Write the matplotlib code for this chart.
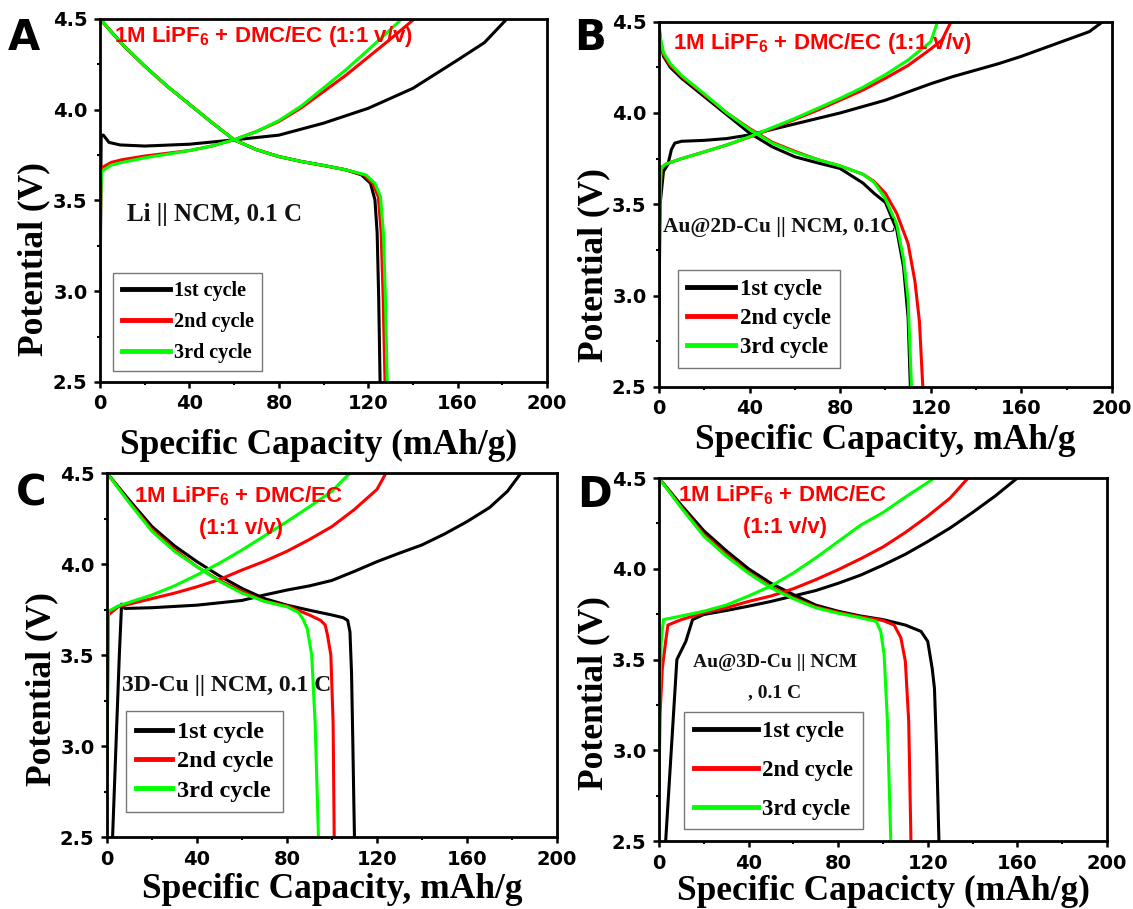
import matplotlib
matplotlib.use('Agg')
import matplotlib.pyplot as plt
from matplotlib.font_manager import FontProperties
from matplotlib.ticker import MultipleLocator

plt.rcParams['mathtext.fontset'] = 'custom'
plt.rcParams['mathtext.rm'] = 'Liberation Sans:bold'
plt.rcParams['mathtext.default'] = 'rm'

colors = ['#000000', '#ff0000', '#00ff00']
cycle_labels = ['1st cycle', '2nd cycle', '3rd cycle']
electrolyte = '1M LiPF$_6$ + DMC/EC (1:1 v/v)'

# ---- A: Li || NCM ----
a_chg1_q = [0, 0.3, 0.5, 1.5, 4, 9, 20, 40, 60, 80, 100, 120, 140, 160, 172, 182]
a_chg1_v = [2.75, 3.5, 3.86, 3.86, 3.82, 3.806, 3.80, 3.81, 3.834, 3.86, 3.926, 4.008, 4.118, 4.274, 4.37, 4.5]
a_chg2_q = [0, 0.3, 0.7, 5, 10, 20, 30, 40, 50, 60, 70, 80, 90, 100, 110, 120, 130, 140.6]
a_chg2_v = [3.1, 3.5, 3.68, 3.71, 3.725, 3.745, 3.76, 3.775, 3.80, 3.835, 3.88, 3.935, 4.01, 4.10, 4.19, 4.29, 4.39, 4.5]
a_chg3_q = [0, 0.3, 0.7, 5, 10, 20, 30, 40, 50, 60, 70, 80, 90, 100, 110, 120, 128, 135]
a_chg3_v = [3.1, 3.5, 3.66, 3.695, 3.71, 3.735, 3.755, 3.775, 3.80, 3.835, 3.88, 3.94, 4.02, 4.12, 4.22, 4.33, 4.42, 4.5]
a_dis1_q = [0, 10, 20, 30, 40, 50, 60, 70, 80, 90, 100, 110, 117, 121, 123, 124, 124.7, 125.3]
a_dis1_v = [4.5, 4.36, 4.24, 4.13, 4.03, 3.93, 3.834, 3.78, 3.742, 3.715, 3.693, 3.669, 3.641, 3.595, 3.504, 3.32, 2.953, 2.5]
a_dis2_q = [0, 10, 20, 30, 40, 50, 60, 70, 80, 90, 100, 110, 118, 122, 124.5, 125.8, 126.7, 127.5]
a_dis2_v = [4.5, 4.36, 4.24, 4.13, 4.03, 3.93, 3.834, 3.78, 3.742, 3.715, 3.693, 3.669, 3.641, 3.595, 3.52, 3.32, 2.953, 2.5]
a_dis3_q = [0, 10, 20, 30, 40, 50, 60, 70, 80, 90, 100, 110, 119, 123, 125.5, 126.8, 127.7, 128.5]
a_dis3_v = [4.5, 4.36, 4.24, 4.13, 4.03, 3.93, 3.834, 3.78, 3.742, 3.715, 3.693, 3.669, 3.641, 3.595, 3.52, 3.32, 2.953, 2.5]

# ---- B: Au@2D-Cu || NCM ----
b_chg1_q = [0, 0.5, 2, 4, 5.5, 7, 10, 20, 30, 40, 50, 60, 70, 80, 90, 100, 110, 120, 130, 140, 150, 160, 170, 180, 190, 196]
b_chg1_v = [2.9, 3.5, 3.68, 3.72, 3.80, 3.835, 3.845, 3.85, 3.86, 3.88, 3.91, 3.94, 3.97, 4.0, 4.035, 4.07, 4.115, 4.16, 4.20, 4.235, 4.27, 4.31, 4.355, 4.40, 4.445, 4.5]
b_chg2_q = [0, 0.5, 1, 3, 10, 20, 30, 40, 50, 60, 70, 80, 90, 100, 110, 120, 125, 129]
b_chg2_v = [3.27, 3.55, 3.70, 3.72, 3.75, 3.787, 3.825, 3.868, 3.915, 3.965, 4.015, 4.07, 4.125, 4.19, 4.26, 4.35, 4.40, 4.5]
b_chg3_q = [0, 0.5, 1, 3, 10, 20, 30, 40, 50, 60, 70, 80, 90, 100, 110, 120, 123]
b_chg3_v = [3.3, 3.55, 3.70, 3.72, 3.75, 3.787, 3.825, 3.87, 3.92, 3.97, 4.025, 4.08, 4.14, 4.21, 4.29, 4.39, 4.5]
b_dis1_q = [0, 0.5, 2, 5, 10, 20, 30, 40, 50, 60, 70, 80, 90, 95, 100, 105, 108, 110, 111]
b_dis1_v = [4.5, 4.40, 4.31, 4.25, 4.19, 4.09, 3.99, 3.89, 3.815, 3.76, 3.727, 3.696, 3.617, 3.56, 3.51, 3.36, 3.157, 2.88, 2.5]
b_dis2_q = [0, 0.5, 2, 5, 10, 20, 30, 40, 50, 60, 70, 80, 90, 95, 100, 105, 110, 113, 115, 116.5]
b_dis2_v = [4.5, 4.40, 4.32, 4.26, 4.2, 4.1, 4.0, 3.915, 3.84, 3.79, 3.745, 3.71, 3.665, 3.625, 3.56, 3.45, 3.285, 3.08, 2.86, 2.5]
b_dis3_q = [0, 0.5, 2, 5, 10, 20, 30, 40, 50, 60, 70, 80, 90, 95, 100, 105, 108, 110, 111.5]
b_dis3_v = [4.5, 4.42, 4.33, 4.27, 4.205, 4.105, 4.0, 3.91, 3.835, 3.785, 3.745, 3.71, 3.665, 3.62, 3.53, 3.39, 3.2, 2.98, 2.5]

# ---- C: 3D-Cu || NCM ----
c_chg1_q = [2.5, 4, 5.5, 6.5, 8, 20, 40, 60, 70, 80, 90, 100, 110, 120, 130, 140, 150, 160, 170, 178, 184]
c_chg1_v = [2.5, 3.0, 3.5, 3.78, 3.756, 3.76, 3.774, 3.80, 3.83, 3.857, 3.88, 3.91, 3.96, 4.013, 4.06, 4.105, 4.165, 4.233, 4.31, 4.40, 4.5]
c_chg2_q = [0, 0.3, 0.6, 5, 10, 20, 30, 40, 50, 60, 70, 80, 90, 100, 110, 120, 124]
c_chg2_v = [2.85, 3.3, 3.72, 3.765, 3.78, 3.81, 3.84, 3.875, 3.915, 3.967, 4.015, 4.07, 4.135, 4.206, 4.30, 4.41, 4.5]
c_chg3_q = [0, 0.3, 0.6, 5, 10, 20, 30, 40, 50, 60, 70, 80, 90, 100, 108]
c_chg3_v = [2.85, 3.3, 3.74, 3.77, 3.79, 3.83, 3.88, 3.94, 4.005, 4.077, 4.155, 4.233, 4.315, 4.4, 4.5]
c_dis1_q = [0, 10, 20, 30, 40, 50, 60, 70, 80, 90, 100, 105, 107, 108, 108.7, 109.3, 109.7, 110]
c_dis1_v = [4.5, 4.35, 4.206, 4.10, 4.013, 3.935, 3.866, 3.81, 3.774, 3.746, 3.72, 3.705, 3.69, 3.627, 3.4, 3.0, 2.7, 2.5]
c_dis2_q = [0, 10, 20, 30, 40, 50, 60, 70, 80, 90, 95, 97, 98, 99.5, 100.5, 101]
c_dis2_v = [4.5, 4.34, 4.19, 4.08, 3.985, 3.91, 3.85, 3.796, 3.77, 3.72, 3.69, 3.665, 3.61, 3.5, 3.13, 2.5]
c_dis3_q = [0, 10, 20, 30, 40, 50, 60, 70, 80, 85, 87, 89, 91, 92.5, 94]
c_dis3_v = [4.5, 4.335, 4.18, 4.07, 3.985, 3.905, 3.84, 3.795, 3.765, 3.735, 3.70, 3.645, 3.5, 3.13, 2.5]

# ---- D: Au@3D-Cu || NCM ----
d_chg1_q = [3, 5, 7, 8, 10, 12, 14, 15, 20, 30, 40, 50, 60, 70, 80, 90, 100, 110, 120, 130, 140, 150, 160]
d_chg1_v = [2.5, 2.9, 3.3, 3.5, 3.55, 3.6, 3.68, 3.72, 3.748, 3.77, 3.794, 3.82, 3.85, 3.88, 3.92, 3.965, 4.02, 4.08, 4.15, 4.225, 4.31, 4.40, 4.5]
d_chg2_q = [0, 0.5, 1.5, 3, 4, 10, 20, 30, 40, 50, 60, 70, 80, 90, 100, 110, 120, 130, 138]
d_chg2_v = [2.8, 3.2, 3.45, 3.6, 3.69, 3.72, 3.757, 3.785, 3.82, 3.85, 3.89, 3.94, 3.995, 4.055, 4.12, 4.2, 4.29, 4.39, 4.5]
d_chg3_q = [0, 0.3, 1, 2, 10, 20, 30, 40, 50, 60, 70, 80, 90, 100, 110, 123]
d_chg3_v = [2.8, 3.3, 3.6, 3.72, 3.74, 3.766, 3.80, 3.85, 3.905, 3.977, 4.06, 4.15, 4.24, 4.31, 4.395, 4.5]
d_dis1_q = [0, 10, 20, 30, 40, 50, 60, 70, 80, 90, 100, 110, 117, 120, 122, 123, 124, 125]
d_dis1_v = [4.5, 4.35, 4.21, 4.10, 4.0, 3.92, 3.858, 3.80, 3.766, 3.74, 3.72, 3.69, 3.655, 3.60, 3.45, 3.34, 2.98, 2.5]
d_dis2_q = [0, 10, 20, 30, 40, 50, 60, 70, 80, 90, 100, 105, 108, 110, 111.5, 112.5]
d_dis2_v = [4.5, 4.34, 4.19, 4.08, 3.98, 3.90, 3.84, 3.79, 3.76, 3.735, 3.715, 3.69, 3.62, 3.49, 3.16, 2.5]
d_dis3_q = [0, 10, 20, 30, 40, 50, 60, 70, 80, 90, 97, 99, 100.5, 102, 103.5]
d_dis3_v = [4.5, 4.335, 4.18, 4.07, 3.975, 3.895, 3.835, 3.785, 3.755, 3.73, 3.71, 3.656, 3.53, 3.16, 2.5]

tick_font = FontProperties(family='DejaVu Sans', weight='bold', size=14)
label_font = FontProperties(family='Liberation Serif', weight='bold', size=25.5)


def draw_panel(ax, charge, discharge, xlabel, xlab_pos, ylab_pos, leg_pos, leg_size, leg_len, leg_space):
    for (q, v), (dq, dv), c, lab in zip(charge, discharge, colors, cycle_labels):
        ax.plot(q, v, color=c, lw=2.2, label=lab, solid_joinstyle='round')
        ax.plot(dq, dv, color=c, lw=2.2, solid_joinstyle='round')
    ax.set_xlim(0, 200)
    ax.set_ylim(2.5, 4.5)
    ax.xaxis.set_major_locator(MultipleLocator(40))
    ax.xaxis.set_minor_locator(MultipleLocator(20))
    ax.yaxis.set_major_locator(MultipleLocator(0.5))
    ax.yaxis.set_minor_locator(MultipleLocator(0.25))
    ax.tick_params(which='major', direction='out', length=4, width=1.8)
    ax.tick_params(which='minor', direction='out', length=2, width=1.5)
    ax.tick_params(axis='x', which='major', pad=5)
    ax.tick_params(axis='y', which='major', pad=5)
    for s in ax.spines.values():
        s.set_linewidth(2)
    for t in ax.get_xticklabels() + ax.get_yticklabels():
        t.set_fontproperties(tick_font)
    ax.set_xlabel(xlabel, fontproperties=label_font)
    ax.set_ylabel('Potential (V)', fontproperties=label_font)
    ax.xaxis.set_label_coords(*xlab_pos)
    ax.yaxis.set_label_coords(*ylab_pos)
    leg = ax.legend(loc='upper left', bbox_to_anchor=leg_pos, borderaxespad=0,
                    prop=FontProperties(family='Liberation Serif', weight='bold', size=leg_size),
                    handlelength=leg_len, labelspacing=leg_space, handletextpad=0.2,
                    fancybox=False, edgecolor='#777777', framealpha=1, borderpad=0.4)
    leg.get_frame().set_linewidth(1.0)
    for h in leg.get_lines():
        h.set_linewidth(3.5)


fig = plt.figure(figsize=(11.33, 9.09), dpi=100)
axA = fig.add_axes([0.0883, 0.5798, 0.3945, 0.3993])
axB = fig.add_axes([0.5816, 0.5743, 0.3998, 0.4019])
axC = fig.add_axes([0.0944, 0.0792, 0.3972, 0.4004])
axD = fig.add_axes([0.5816, 0.0748, 0.3954, 0.3993])

draw_panel(axA,
           [(a_chg1_q, a_chg1_v), (a_chg2_q, a_chg2_v), (a_chg3_q, a_chg3_v)],
           [(a_dis1_q, a_dis1_v), (a_dis2_q, a_dis2_v), (a_dis3_q, a_dis3_v)],
           'Specific Capacity (mAh/g)', (0.49, -0.13), (-0.112, 0.339),
           (0.03, 0.30), 14.5, 2.4, 0.55)
draw_panel(axB,
           [(b_chg1_q, b_chg1_v), (b_chg2_q, b_chg2_v), (b_chg3_q, b_chg3_v)],
           [(b_dis1_q, b_dis1_v), (b_dis2_q, b_dis2_v), (b_dis3_q, b_dis3_v)],
           'Specific Capacity, mAh/g', (0.5, -0.102), (-0.108, 0.334),
           (0.042, 0.32), 16.5, 2.1, 0.35)
draw_panel(axC,
           [(c_chg1_q, c_chg1_v), (c_chg2_q, c_chg2_v), (c_chg3_q, c_chg3_v)],
           [(c_dis1_q, c_dis1_v), (c_dis2_q, c_dis2_v), (c_dis3_q, c_dis3_v)],
           'Specific Capacity, mAh/g', (0.5, -0.1), (-0.109, 0.407),
           (0.042, 0.345), 17.5, 1.5, 0.3)
draw_panel(axD,
           [(d_chg1_q, d_chg1_v), (d_chg2_q, d_chg2_v), (d_chg3_q, d_chg3_v)],
           [(d_dis1_q, d_dis1_v), (d_dis2_q, d_dis2_v), (d_dis3_q, d_dis3_v)],
           'Specific Capacicty (mAh/g)', (0.5, -0.093), (-0.109, 0.408),
           (0.057, 0.356), 16.5, 2.8, 0.78)

# electrolyte labels
red_kw = dict(color='#ff0000', family='Liberation Sans', weight='bold', size=16)
axA.text(6.4, 4.403, electrolyte, ha='left', va='center', **red_kw)
axB.text(6.4, 4.381, electrolyte, ha='left', va='center', **red_kw)
axC.text(58.5, 4.371, '1M LiPF$_6$ + DMC/EC', ha='center', va='center', **red_kw)
axC.text(59.4, 4.197, '(1:1 v/v)', ha='center', va='center', **red_kw)
axD.text(55.4, 4.408, '1M LiPF$_6$ + DMC/EC', ha='center', va='center', **red_kw)
axD.text(56.2, 4.225, '(1:1 v/v)', ha='center', va='center', **red_kw)

# cell labels
cell_kw = dict(color='#111111', family='Liberation Serif', weight='bold')
axA.text(12.0, 3.425, 'Li || NCM, 0.1 C', ha='left', va='center', size=18, **cell_kw)
axB.text(1.6, 3.377, 'Au@2D-Cu || NCM, 0.1C', ha='left', va='center', size=15.5, **cell_kw)
axC.text(6.8, 3.333, '3D-Cu || NCM, 0.1 C', ha='left', va='center', size=17, **cell_kw)
axD.text(51.8, 3.482, 'Au@3D-Cu || NCM', ha='center', va='center', size=14, **cell_kw)
axD.text(51.8, 3.317, ', 0.1 C', ha='center', va='center', size=14, **cell_kw)

# panel letters
for lab, x, y in [('A', 8, 37.5), ('B', 574, 38.5), ('C', 16, 493.5), ('D', 577, 495)]:
    fig.text(x / 1133, 1 - y / 909, lab, ha='left', va='center',
             family='DejaVu Sans', weight='bold', size=30)

fig.savefig('out.png', dpi=100)
